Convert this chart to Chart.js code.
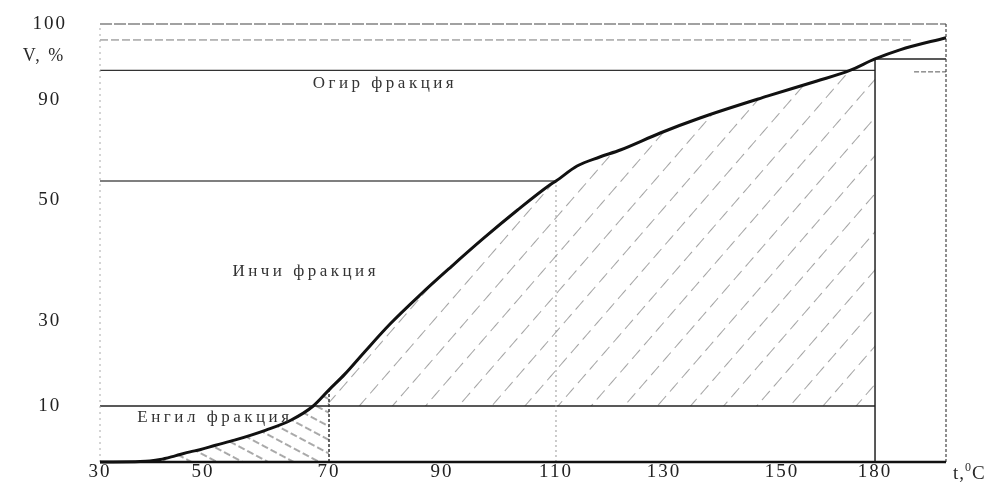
<!DOCTYPE html>
<html>
<head>
<meta charset="utf-8">
<script src="https://cdn.jsdelivr.net/npm/chart.js@4.4.1/dist/chart.umd.min.js"></script>
<style>
  html, body { margin: 0; padding: 0; background: #fff; }
  canvas { display: block; }
</style>
</head>
<body>
<canvas id="chart" width="1000" height="482"></canvas>
<script>
// Distillation curve: volume distilled (V, %) against temperature (t, °C)
const tempTicks = [30, 50, 70, 90, 110, 130, 150, 180];
const volTicks = [10, 30, 50, 90, 100];

const curveTemp = [30, 37.8, 39.7, 41.7, 44.6, 47.5, 49.4, 52, 55, 60, 64, 67.5, 70, 72.8, 76.4, 80.8, 86.1, 91.4, 97.2, 103.2, 108.9, 110, 113.9, 118.1, 121.9, 129.3, 136.1, 147.5, 161.3, 171.9, 180, 187, 200];
const curveVol  = [0, 0.1, 0.2, 0.45, 1.1, 1.8, 2.2, 3.0, 3.9, 5.7, 7.5, 10, 13.8, 17.5, 22.9, 29.3, 34.3, 38.8, 43.6, 48.3, 56.0, 57.6, 63.6, 67.2, 70, 76.8, 82.8, 90.5, 92.5, 93.9, 95.4, 96.6, 98.2];

// Fraction boundaries
const lightEndTemp = 70;      // end of the light fraction
const middleCutTemp = 110;
const heavyEndTemp = 180;
const gridEndTemp = 200;
const lightCrossTemp = 67.5;  // curve meets the 10 % level
const lightHatchStartTemp = 41.7;
const lightLevelVol = 10;
const lightEndVol = 13.8;
const middleLevelVol = 57.6;
const heavyLevelVol = 93.9;
const heavyEndVol = 95.4;
const upperLevelVol = 97.9;
const upperLevelEndTemp = 190.7;
const shortLevelVol = 93.7;
const shortLevelStartTemp = 191;
const topVol = 100;
const baseVol = 0;

// Axis scale: hand-spaced ticks, linear between neighbouring stops
const scaleStops = {
  x: { values: [30, 50, 70, 90, 110, 130, 150, 180, 200],
       decimals: [0, 0.1217, 0.2707, 0.4043, 0.5390, 0.6667, 0.8061, 0.9161, 1] },
  y: { values: [0, 10, 30, 50, 90, 100],
       decimals: [0, 0.1279, 0.3219, 0.5982, 0.8265, 1] }
};

function interp(xs, ys, v) {
  if (v <= xs[0]) return ys[0] + (v - xs[0]) * (ys[1] - ys[0]) / (xs[1] - xs[0]);
  for (let i = 1; i < xs.length; i++) {
    if (v <= xs[i]) return ys[i - 1] + (v - xs[i - 1]) * (ys[i] - ys[i - 1]) / (xs[i] - xs[i - 1]);
  }
  const n = xs.length - 1;
  return ys[n] + (v - xs[n]) * (ys[n] - ys[n - 1]) / (xs[n] - xs[n - 1]);
}

class PiecewiseScale extends Chart.LinearScale {
  buildTicks() {
    return (this.id === 'x' ? tempTicks : volTicks).map(v => ({ value: v }));
  }
  getPixelForValue(value) {
    if (value === null || value === undefined || isNaN(value)) return NaN;
    const s = scaleStops[this.id];
    return this.getPixelForDecimal(interp(s.values, s.decimals, value));
  }
  getValueForPixel(pixel) {
    const s = scaleStops[this.id];
    return interp(s.decimals, s.values, this.getDecimalForPixel(pixel));
  }
}
PiecewiseScale.id = 'piecewise';
PiecewiseScale.defaults = Chart.LinearScale.defaults;
Chart.register(PiecewiseScale);

const ctx = document.getElementById('chart').getContext('2d');

function hatch(spacing, dash, gap, angleDeg, color, width) {
  const tile = document.createElement('canvas');
  tile.width = dash + gap;
  tile.height = spacing;
  const g = tile.getContext('2d');
  g.strokeStyle = color;
  g.lineWidth = width;
  g.beginPath();
  g.moveTo(0, spacing / 2);
  g.lineTo(dash, spacing / 2);
  g.stroke();
  const p = ctx.createPattern(tile, 'repeat');
  p.setTransform(new DOMMatrix().rotateSelf(angleDeg));
  return p;
}

const curvePts = curveTemp.map((t, i) => ({ x: t, y: curveVol[i] }));
const seg = (t0, v0, t1, v1) => [{ x: t0, y: v0 }, { x: t1, y: v1 }];

function line(data, color, width, dash) {
  return { data, borderColor: color, borderWidth: width, borderDash: dash || [],
           pointRadius: 0, fill: false, clip: false, tension: 0 };
}

const serif = "'Liberation Serif', 'DejaVu Serif', serif";
Chart.defaults.font.family = serif;

const fractionLabels = {
  id: 'fractionLabels',
  beforeDraw(chart) {
    chart.ctx.letterSpacing = '2px';
  },
  afterDatasetsDraw(chart, args, opts) {
    const { ctx: c, scales: { x, y }, chartArea } = chart;
    c.save();
    c.fillStyle = '#333';
    c.font = '17px ' + serif;
    c.letterSpacing = '3.5px';
    c.textAlign = 'center';
    c.textBaseline = 'middle';
    opts.items.forEach(it => {
      c.fillText(it.text, x.getPixelForValue(it.t), y.getPixelForValue(it.v));
    });
    // axis names
    c.fillStyle = '#2a2a2a';
    c.font = '18px ' + serif;
    c.letterSpacing = '2px';
    c.fillText('V, %', chartArea.left - 56, y.getPixelForValue(95.8));
    c.textAlign = 'left';
    c.textBaseline = 'alphabetic';
    c.letterSpacing = '1px';
    let px = chartArea.right + 7;
    const base = chartArea.bottom + 17;
    c.font = '19px ' + serif;
    c.fillText('t,', px, base);
    px += c.measureText('t,').width;
    c.font = '12px ' + serif;
    c.fillText('0', px, base - 8);
    px += c.measureText('0').width;
    c.font = '19px ' + serif;
    c.fillText('C', px, base);
    c.restore();
  }
};

new Chart(ctx, {
  type: 'line',
  data: {
    datasets: [
      // distillation curve
      Object.assign(line(curvePts, '#111', 3), { cubicInterpolationMode: 'monotone' }),
      line(seg(tempTicks[0], baseVol, gridEndTemp, baseVol), '#111', 2.5),
      line(seg(heavyEndTemp, baseVol, heavyEndTemp, heavyEndVol), '#222', 1.5),
      line(seg(lightEndTemp, baseVol, lightEndTemp, lightEndVol), '#333', 1.5, [3, 2]),
      line(seg(middleCutTemp, baseVol, middleCutTemp, middleLevelVol), '#999', 1, [2, 3]),
      line(seg(gridEndTemp, baseVol, gridEndTemp, topVol), '#444', 1.2, [3, 2]),
      line(seg(tempTicks[0], baseVol, tempTicks[0], topVol), '#aaa', 1, [2, 4]),
      line(seg(tempTicks[0], topVol, gridEndTemp, topVol), '#444', 1.2, [12, 2]),
      line(seg(tempTicks[0], upperLevelVol, upperLevelEndTemp, upperLevelVol), '#777', 1, [8, 3]),
      line(seg(tempTicks[0], heavyLevelVol, heavyEndTemp, heavyLevelVol), '#333', 1.3),
      line(seg(shortLevelStartTemp, shortLevelVol, gridEndTemp, shortLevelVol), '#555', 1, [5, 2]),
      line(seg(heavyEndTemp, heavyEndVol, gridEndTemp, heavyEndVol), '#222', 1.5),
      line(seg(tempTicks[0], middleLevelVol, middleCutTemp - 0.2, middleLevelVol), '#555', 1.3),
      line(seg(tempTicks[0], lightLevelVol, heavyEndTemp, lightLevelVol), '#222', 1.5),
      // middle fraction: hatched between the curve and the 10 % level
      {
        data: curvePts.filter(p => p.x >= lightCrossTemp && p.x <= heavyEndTemp),
        borderWidth: 0, pointRadius: 0, clip: false,
        cubicInterpolationMode: 'monotone',
        fill: { value: lightLevelVol },
        backgroundColor: hatch(25, 12, 6, -49, '#999', 0.9)
      },
      // light fraction: hatched under the curve up to 70 °C
      {
        data: curvePts.filter(p => p.x >= lightHatchStartTemp && p.x <= lightEndTemp),
        borderWidth: 0, pointRadius: 0, clip: false,
        cubicInterpolationMode: 'monotone',
        fill: { value: baseVol },
        backgroundColor: hatch(12, 7, 3, 28, '#555', 1)
      }
    ]
  },
  options: {
    responsive: false,
    animation: false,
    devicePixelRatio: 1,
    layout: { padding: { left: 0, right: 54, top: 24, bottom: 0 } },
    plugins: {
      legend: { display: false },
      tooltip: { enabled: false },
      fractionLabels: {
        items: [
          { text: 'Огир фракция', t: 79.9, v: 92.2 },
          { text: 'Инчи фракция', t: 66.3, v: 38.1 },
          { text: 'Енгил фракция', t: 51.9, v: 8.0 }
        ]
      }
    },
    scales: {
      x: {
        type: 'piecewise', position: 'bottom', min: 30, max: gridEndTemp,
        grid: { display: false, drawTicks: false },
        border: { display: false },
        ticks: { autoSkip: false, maxRotation: 0, padding: 1, color: '#222',
                 font: { size: 19, lineHeight: 1 }, callback: v => String(v) },
        afterFit: s => { s.height = 20; }
      },
      y: {
        type: 'piecewise', position: 'left', min: 0, max: 100,
        grid: { display: false, drawTicks: false },
        border: { display: false },
        ticks: { autoSkip: false, padding: 36, crossAlign: 'center', color: '#222',
                 font: { size: 19, lineHeight: 1 }, callback: v => String(v) },
        afterFit: s => { s.width = 100; s.paddingTop = 0; s.paddingBottom = 0; }
      }
    }
  },
  plugins: [fractionLabels]
});
</script>
</body>
</html>
